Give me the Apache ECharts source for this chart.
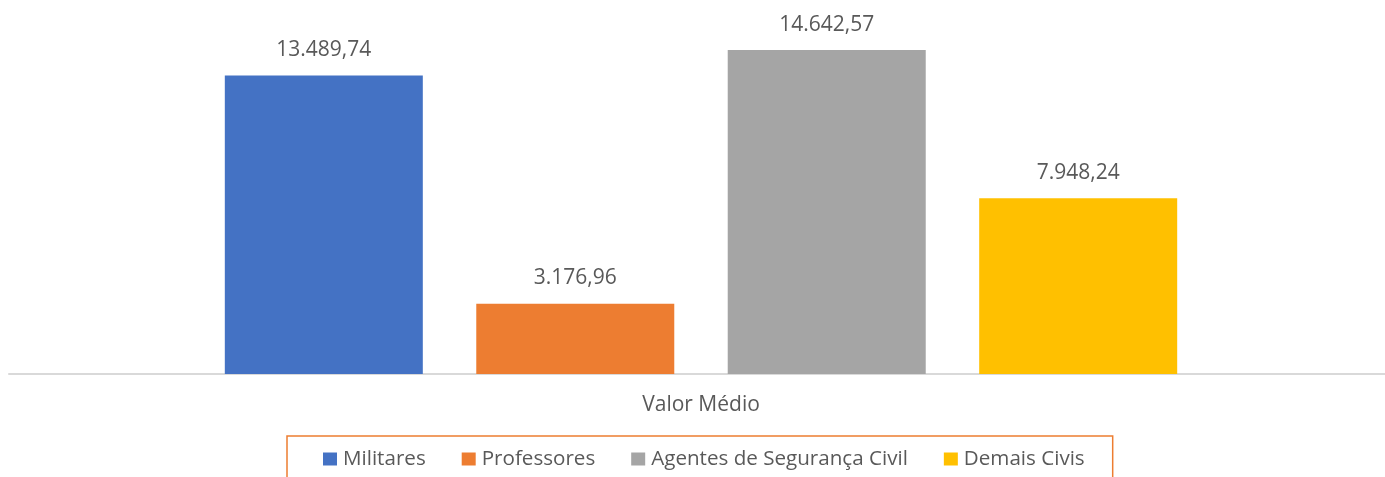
<!DOCTYPE html>
<html>
<head>
<meta charset="utf-8">
<script src="https://cdn.jsdelivr.net/npm/echarts@6.0.0/dist/echarts.min.js"></script>
<style>
  html, body { margin: 0; padding: 0; background: #fff; }
  #chart { width: 1385px; height: 477px; }
</style>
</head>
<body>
<div id="chart"></div>
<script>
const categories = ['Valor Médio']
const seriesNames = ['Militares', 'Professores', 'Agentes de Segurança Civil', 'Demais Civis']
const seriesValues = [13489.74, 3176.96, 14642.57, 7948.24]
const seriesColors = ['#4472C4', '#ED7D31', '#A5A5A5', '#FFC000']

function fmt(v) {
  const parts = v.toFixed(2).split('.')
  const int = parts[0].replace(/\B(?=(\d{3})+(?!\d))/g, '.')
  return int + ',' + parts[1]
}

const font = '"Open Sans", "Noto Sans", sans-serif'
const textColor = '#595959'

const chart = echarts.init(document.getElementById('chart'))
chart.setOption({
  animation: false,
  backgroundColor: '#fff',
  grid: { left: 9, width: 1384, top: 20, bottom: 103, outerBoundsMode: 'none' },
  xAxis: {
    type: 'category',
    data: categories,
    axisLine: { lineStyle: { color: '#D9D9D9', width: 2 } },
    axisTick: { show: false },
    axisLabel: { color: textColor, fontFamily: font, fontSize: 21, lineHeight: 21, margin: 21 }
  },
  yAxis: {
    type: 'value',
    min: 0,
    max: 16000,
    show: false,
    splitLine: { show: false }
  },
  legend: {
    left: 287,
    top: 436,
    padding: [12, 28, 30, 36],
    borderColor: '#ED7D31',
    borderWidth: 1.5,
    itemWidth: 14,
    itemHeight: 13,
    itemGap: 36,
    icon: 'rect',
    textStyle: { color: textColor, fontFamily: font, fontSize: 20.6, lineHeight: 22, padding: [0, 0, 0, 1] },
    data: seriesNames
  },
  series: seriesNames.map((name, i) => ({
    name: name,
    type: 'bar',
    data: [seriesValues[i]],
    barWidth: 198,
    barGap: '27%',
    itemStyle: { color: seriesColors[i] },
    label: {
      show: true,
      position: 'top',
      distance: 15,
      color: textColor,
      fontFamily: font,
      fontSize: 21,
      lineHeight: 21,
      formatter: p => fmt(p.value)
    }
  }))
})
</script>
</body>
</html>
